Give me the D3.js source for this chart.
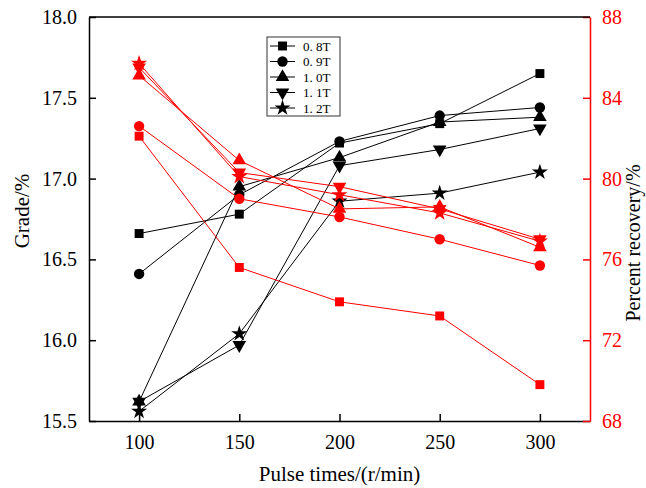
<!DOCTYPE html>
<html>
<head>
<meta charset="utf-8">
<script src="https://cdn.jsdelivr.net/npm/d3@7"></script>
<style>
  body { margin: 0; background: #fff; }
</style>
</head>
<body>
<div class="canvas"></div>
<script>
// data
const pulse = [100, 150, 200, 250, 300];
const fields = ['0. 8T', '0. 9T', '1. 0T', '1. 1T', '1. 2T'];
const grade08 = [16.66, 16.78, 17.22, 17.34, 17.65];
const grade09 = [16.41, 16.90, 17.23, 17.39, 17.44];
const grade10 = [15.62, 16.95, 17.13, 17.35, 17.38];
const grade11 = [15.62, 15.97, 17.08, 17.18, 17.31];
const grade12 = [15.56, 16.04, 16.86, 16.91, 17.04];
const recovery08 = [82.1, 75.6, 73.9, 73.2, 69.8];
const recovery09 = [82.6, 79.0, 78.1, 77.0, 75.7];
const recovery10 = [85.1, 80.9, 78.5, 78.6, 76.6];
const recovery11 = [85.5, 80.3, 79.6, 78.5, 77.0];
const recovery12 = [85.7, 80.1, 79.2, 78.3, 76.9];
const xTicks = [100, 150, 200, 250, 300];
const gradeTicks = [15.5, 16.0, 16.5, 17.0, 17.5, 18.0];
const recoveryTicks = [68, 72, 76, 80, 84, 88];

const grades = [grade08, grade09, grade10, grade11, grade12];
const recoveries = [recovery08, recovery09, recovery10, recovery11, recovery12];

const serif = '"Liberation Serif", "Times New Roman", serif';

// graph dimensions
const margin = { top: 17, right: 56, bottom: 67, left: 89 };
const graphWidth = 646 - margin.left - margin.right;
const graphHeight = 488 - margin.top - margin.bottom;

const svg = d3.select('.canvas')
  .append('svg')
  .attr('width', 646)
  .attr('height', 488)
  .style('font-family', serif);

const graph = svg.append('g')
  .attr('transform', `translate(${margin.left}, ${margin.top})`);

// scales
const x = d3.scaleLinear().domain([75, 325]).range([0, graphWidth]);
const yL = d3.scaleLinear().domain([15.5, 18.0]).range([graphHeight, 0]);
const yR = d3.scaleLinear().domain([68, 88]).range([graphHeight, 0]);

// marker shapes: square, circle, triangle, inverted triangle, star
const shapes = [
  { type: d3.symbolSquare, size: 80, rot: 0 },
  { type: d3.symbolCircle, size: 85, rot: 0 },
  { type: d3.symbolTriangle, size: 80, rot: 0 },
  { type: d3.symbolTriangle, size: 80, rot: 180 },
  { type: d3.symbolStar, size: 80, rot: 0 }
];

// draw one set of series
const drawSeries = (sets, yScale, colour) => {
  sets.forEach((vals, i) => {
    const pts = vals.map((v, j) => ({ x: pulse[j], y: v }));
    const line = d3.line().x(d => x(d.x)).y(d => yScale(d.y));
    graph.append('path')
      .datum(pts)
      .attr('fill', 'none')
      .attr('stroke', colour)
      .attr('stroke-width', 1)
      .attr('d', line);
    const s = shapes[i];
    graph.append('g').selectAll('path')
      .data(pts)
      .enter()
      .append('path')
      .attr('d', d3.symbol().type(s.type).size(s.size))
      .attr('transform', d => `translate(${x(d.x)}, ${yScale(d.y)}) rotate(${s.rot})`)
      .attr('fill', colour);
  });
};

drawSeries(grades, yL, '#000');
drawSeries(recoveries, yR, '#ff0000');

// axes (ticks point inward)
const xAxis = d3.axisBottom(x).tickValues(xTicks).tickSize(-7).tickPadding(14).tickSizeOuter(0);
const yAxisL = d3.axisLeft(yL).tickValues(gradeTicks).tickFormat(d3.format('.1f')).tickSize(-7).tickPadding(12).tickSizeOuter(0);
const yAxisR = d3.axisRight(yR).tickValues(recoveryTicks).tickSize(-7).tickPadding(12).tickSizeOuter(0);

const xg = graph.append('g').attr('transform', `translate(0, ${graphHeight})`).call(xAxis);
const ylg = graph.append('g').call(yAxisL);
const yrg = graph.append('g').attr('transform', `translate(${graphWidth}, 0)`).call(yAxisR);

[xg, ylg, yrg].forEach(g => {
  g.attr('font-family', null).attr('font-size', null);
  g.selectAll('text').style('font-size', '20px').style('font-family', serif);
  g.selectAll('path, line').attr('stroke-width', 1.5);
});
xg.selectAll('path, line').attr('stroke', '#000');
xg.selectAll('text').attr('fill', '#000');
ylg.selectAll('path, line').attr('stroke', '#000');
ylg.selectAll('text').attr('fill', '#000');
yrg.selectAll('path, line').attr('stroke', '#ff0000');
yrg.selectAll('text').attr('fill', '#ff0000');

// top border
graph.append('line')
  .attr('x1', 0).attr('x2', graphWidth)
  .attr('y1', 0).attr('y2', 0)
  .attr('stroke', '#000').attr('stroke-width', 1.5);

// axis titles
svg.append('text')
  .attr('x', margin.left + x(200))
  .attr('y', 481)
  .attr('text-anchor', 'middle')
  .style('font-size', '21px')
  .text('Pulse times/(r/min)');

svg.append('text')
  .attr('transform', `translate(29, ${margin.top + graphHeight / 2 - 8}) rotate(-90)`)
  .attr('text-anchor', 'middle')
  .style('font-size', '21px')
  .text('Grade/%');

svg.append('text')
  .attr('transform', `translate(640, ${margin.top + graphHeight / 2 + 24}) rotate(-90)`)
  .attr('text-anchor', 'middle')
  .style('font-size', '20px')
  .text('Percent recovery/%');

// legend
const legend = svg.append('g').attr('transform', 'translate(267, 37)');
legend.append('rect')
  .attr('width', 73).attr('height', 79)
  .attr('fill', '#fff').attr('stroke', '#333').attr('stroke-width', 1);

fields.forEach((f, i) => {
  const row = legend.append('g').attr('transform', `translate(0, ${9 + i * 15.5})`);
  row.append('line')
    .attr('x1', 3).attr('x2', 28)
    .attr('stroke', '#000').attr('stroke-width', 1);
  const s = shapes[i];
  row.append('path')
    .attr('d', d3.symbol().type(s.type).size(s.size))
    .attr('transform', `translate(15.5, 0) rotate(${s.rot})`)
    .attr('fill', '#000');
  row.append('text')
    .attr('x', 36).attr('y', 4.5)
    .style('font-size', '13px')
    .text(f);
});
</script>
</body>
</html>
